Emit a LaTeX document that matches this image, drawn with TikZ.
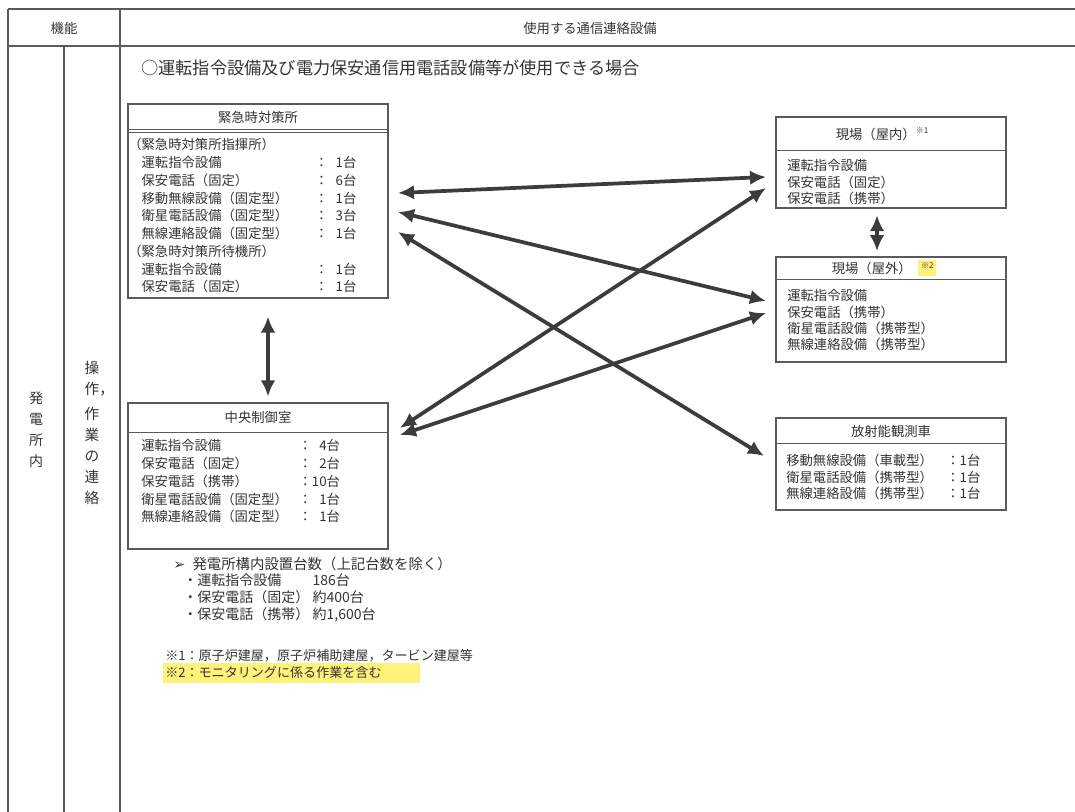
\documentclass[tikz,border=0pt]{standalone}
\usepackage{fontspec}
\setmainfont{Noto Sans CJK JP}
\newfontfamily\dingfont{DejaVu Sans}
\usepackage{tikz}
\usetikzlibrary{arrows.meta, positioning, fit}

\definecolor{inkgray}{HTML}{333333}
\definecolor{rulegray}{HTML}{5A5A5A}
\definecolor{arrowgray}{HTML}{3C3C3C}
\definecolor{markyellow}{HTML}{FFF27A}

\newcommand{\boxfont}{\fontsize{10}{13.3}\selectfont}
\newcommand{\sitefont}{\fontsize{10}{12}\selectfont}
\newcommand{\notefont}{\fontsize{10.5}{12}\selectfont}
\newcommand{\notemark}[1]{\raisebox{0.7ex}{\fontsize{6}{6}\selectfont #1}}

\begin{document}
\begin{tikzpicture}[
    x=0.75pt, y=-0.75pt,
    every node/.style={text=inkgray, inner sep=0pt},
    tablerule/.style={draw=rulegray, line width=0.9pt},
    panel/.style={draw=rulegray, line width=0.8pt, inner sep=0pt},
    boxhead/.style={font=\boxfont},
    boxbody/.style={anchor=base west},
    link/.style={{Latex[length=12pt,width=11pt]}-{Latex[length=12pt,width=11pt]},
      draw=arrowgray, line width=2.8pt}
  ]
    \useasboundingbox (0,0) rectangle (1075,812);

    % table frame
    \draw[tablerule] (8,9) -- (1075,9);
    \draw[tablerule] (8,46) -- (1075,46);
    \draw[tablerule] (8,9) -- (8,812);
    \draw[tablerule] (120,9) -- (120,812);
    \draw[tablerule] (64,46) -- (64,812);

    \node[font=\boxfont] (func) at (64,28) {機能};
    \node[font=\boxfont] (equip) at (590,28) {使用する通信連絡設備};
    \node[align=center, font=\fontsize{10.5}{15.75}\selectfont] (plant) at (36,430) {発\\電\\所\\内};
    \node[align=center, font=\fontsize{11}{15.75}\selectfont] (work) at (92,433)
      {操\\作\rlap{，}\\[3pt]作\\業\\の\\連\\絡};

    \node[anchor=west, font=\fontsize{12.9}{14}\selectfont] (scope) at (141,68)
      {○運転指令設備及び電力保安通信用電話設備等が使用できる場合};

    % emergency response center
    \node[panel, fit={(128,104) (388,298)}] (kinkyu) {};
    \draw[tablerule, line width=0.7pt] (128,129) -- (388,129);
    \draw[tablerule, line width=0.7pt] (128,132) -- (388,132);
    \node[boxhead] (kinkyuhead) at (258,117) {緊急時対策所};
    \node[boxbody] (kinkyubody) at (128,150) {\boxfont
      \begin{tabular}[t]{@{}p{140pt}@{}l@{}}
        \multicolumn{2}{@{}l@{}}{（緊急時対策所指揮所）}\\
        \quad 運転指令設備 & ：\phantom{0}1台\\
        \quad 保安電話（固定） & ：\phantom{0}6台\\
        \quad 移動無線設備（固定型） & ：\phantom{0}1台\\
        \quad 衛星電話設備（固定型） & ：\phantom{0}3台\\
        \quad 無線連絡設備（固定型） & ：\phantom{0}1台\\
        \multicolumn{2}{@{}l@{}}{（緊急時対策所待機所）}\\
        \quad 運転指令設備 & ：\phantom{0}1台\\
        \quad 保安電話（固定） & ：\phantom{0}1台
      \end{tabular}};

    % main control room
    \node[panel, fit={(128,403) (388,549)}] (chuo) {};
    \draw[tablerule, line width=0.7pt] (128,432) -- (388,432);
    \node[boxhead] (chuohead) at (258,417) {中央制御室};
    \node[boxbody] (chuobody) at (141,451) {\boxfont
      \begin{tabular}[t]{@{}p{118pt}@{}l@{}}
        運転指令設備 & ：\phantom{0}4台\\
        保安電話（固定） & ：\phantom{0}2台\\
        保安電話（携帯） & ：10台\\
        衛星電話設備（固定型） & ：\phantom{0}1台\\
        無線連絡設備（固定型） & ：\phantom{0}1台
      \end{tabular}};

    % field (indoor)
    \node[panel, fit={(776,117) (1006,208)}] (okunai) {};
    \draw[tablerule, line width=0.7pt] (776,150) -- (1006,150);
    \node[boxhead] (okunaihead) at (882,134) {現場（屋内）\notemark{※1}};
    \node[boxbody] (okunaibody) at (787,171) {\sitefont
      \begin{tabular}[t]{@{}l@{}}
        運転指令設備\\
        保安電話（固定）\\
        保安電話（携帯）
      \end{tabular}};

    % field (outdoor)
    \node[panel, fit={(776,257) (1006,362)}] (okugai) {};
    \draw[tablerule, line width=0.7pt] (776,279) -- (1006,279);
    \node[boxhead] (okugaihead) at (884,268)
      {現場（屋外）\enspace{\setlength{\fboxsep}{2pt}\colorbox{markyellow}{\notemark{※2}}}};
    \node[boxbody] (okugaibody) at (787,301) {\sitefont
      \begin{tabular}[t]{@{}l@{}}
        運転指令設備\\
        保安電話（携帯）\\
        衛星電話設備（携帯型）\\
        無線連絡設備（携帯型）
      \end{tabular}};

    % monitoring car
    \node[panel, fit={(776,418) (1006,510)}] (kansoku) {};
    \draw[tablerule, line width=0.7pt] (776,443) -- (1006,443);
    \node[boxhead] (kansokuhead) at (891,431) {放射能観測車};
    \node[boxbody] (kansokubody) at (786,466) {\sitefont
      \begin{tabular}[t]{@{}p{120pt}@{}l@{}}
        移動無線設備（車載型） & ：1台\\
        衛星電話設備（携帯型） & ：1台\\
        無線連絡設備（携帯型） & ：1台
      \end{tabular}};

    % arrow ends
    \coordinate (k1) at (398,193);
    \coordinate (k2) at (398,212);
    \coordinate (k3) at (398,232);
    \coordinate (c1) at (400,428);
    \coordinate (c2) at (400,435);
    \coordinate (n1) at (766,177);
    \coordinate (n2) at (766,188);
    \coordinate (g1) at (766,301);
    \coordinate (g2) at (766,313);
    \coordinate (s1) at (764,456);

    % links
    \draw[link] (k1) -- (n1);
    \draw[link] (k2) -- (g1);
    \draw[link] (k3) -- (s1);
    \draw[link] (c1) -- (n2);
    \draw[link] (c2) -- (g2);
    \draw[link, shorten <=13.5pt, shorten >=4.5pt] ([xshift=7.5pt]kinkyu.south) -- ([xshift=7.5pt]chuo.north);
    \draw[link, shorten <=5pt, shorten >=4pt] ([xshift=-10.5pt]okunai.south) -- ([xshift=-10.5pt]okugai.north);

    % notes
    \node[anchor=base west, font=\fontsize{10.8}{12}\selectfont] (notehead) at (173,570)
      {{\dingfont ➢}\enspace 発電所構内設置台数（上記台数を除く）};
    \node[anchor=base west] (notelist) at (183,586) {\notefont
      \begin{tabular}[t]{@{}p{97pt}@{}l@{}}
        ・運転指令設備 & 186台\\
        ・保安電話（固定） & 約400台\\
        ・保安電話（携帯） & 約1,600台
      \end{tabular}};
    \fill[markyellow] (163,663) rectangle (420,683);
    \node[anchor=base west, font=\fontsize{9.8}{12}\selectfont] (note1) at (165,660)
      {※1：原子炉建屋，原子炉補助建屋，タービン建屋等};
    \node[anchor=base west, font=\fontsize{9.8}{12}\selectfont] (note2) at (165,677)
      {※2：モニタリングに係る作業を含む};
  \end{tikzpicture}
\end{document}
